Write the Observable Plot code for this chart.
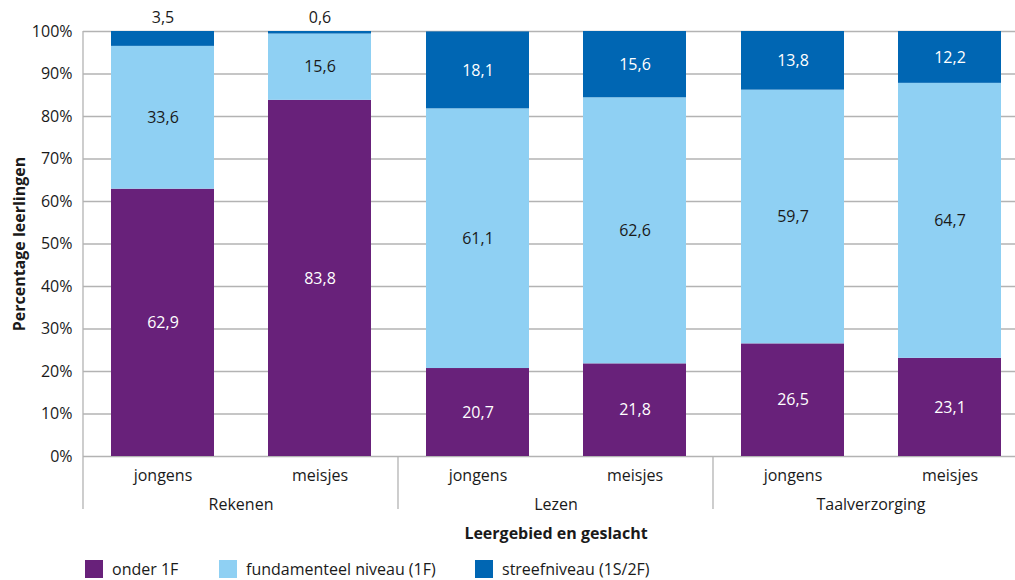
<!DOCTYPE html>
<html><head><meta charset="utf-8">
<script src="https://cdn.jsdelivr.net/npm/d3@7"></script>
<script src="https://cdn.jsdelivr.net/npm/@observablehq/plot@0.6"></script>
<style>
html,body{margin:0;padding:0;background:#fff;}
#wrap{position:relative;width:1015px;height:580px;overflow:hidden;font-family:"Open Sans",sans-serif;color:#1a1a1a;}
#chart svg{max-width:none !important;}
[aria-label="y-axis label"]{font-weight:bold;}
#xtitle{position:absolute;left:406px;width:300px;top:522px;text-align:center;font-weight:bold;font-size:16px;}
.leg{position:absolute;top:558px;display:flex;align-items:center;font-size:16px;white-space:nowrap;}
.leg span.sw{display:inline-block;width:18px;height:18px;margin-right:9px;}
</style></head>
<body><div id="wrap"><div id="chart"></div><div id="xtitle">Leergebied en geslacht</div><div id="legend"></div></div>
<script>
const groups = ["Rekenen", "Lezen", "Taalverzorging"];
const genders = ["jongens", "meisjes"];
const barGroup = ["Rekenen", "Rekenen", "Lezen", "Lezen", "Taalverzorging", "Taalverzorging"];
const barGender = ["jongens", "meisjes", "jongens", "meisjes", "jongens", "meisjes"];
const levels = ["onder 1F", "fundamenteel niveau (1F)", "streefniveau (1S/2F)"];
const levelColors = ["#68217a", "#8fd0f3", "#0066b3"];
const onder1F = [62.9, 83.8, 20.7, 21.8, 26.5, 23.1];
const fundamenteel = [33.6, 15.6, 61.1, 62.6, 59.7, 64.7];
const streef = [3.5, 0.6, 18.1, 15.6, 13.8, 12.2];
const yTicks = [0, 10, 20, 30, 40, 50, 60, 70, 80, 90, 100];

const series = [onder1F, fundamenteel, streef];
const rows = [];
barGroup.forEach((g, i) => {
  let acc = 0;
  series.forEach((s, k) => {
    const v = s[i];
    rows.push({group: g, gender: barGender[i], level: levels[k], li: k, value: v, y1: acc, y2: acc + v});
    acc += v;
  });
});
const bars = barGroup.map((g, i) => ({group: g, gender: barGender[i]}));
const fmt = v => v.toFixed(1).replace(".", ",");
const big = rows.filter(d => d.value >= 5);
const small = rows.filter(d => d.value < 5);

const chart = Plot.plot({
  width: 1028, height: 545,
  marginLeft: 83, marginRight: 0, marginTop: 31, marginBottom: 89,
  style: {fontFamily: "Open Sans", fontSize: "16px", color: "#1a1a1a", background: "white"},
  fx: {domain: groups, padding: 0, axis: null, label: null},
  x: {domain: genders, paddingInner: 0.346, paddingOuter: 0.173, axis: null, label: null},
  y: {domain: [0, 100], ticks: yTicks, tickSize: 0, tickPadding: 11, tickFormat: d => d + "%",
      label: "Percentage leerlingen", labelAnchor: "center", labelOffset: 70, labelArrow: "none"},
  color: {domain: levels, range: levelColors},
  marks: [
    Plot.gridY(yTicks, {stroke: "#b3b3b3", strokeOpacity: 1, strokeWidth: 1.3}),
    Plot.barY(rows, {fx: "group", x: "gender", y1: "y1", y2: "y2", fill: "level"}),
    Plot.text(big.filter(d => d.li !== 1), {fx: "group", x: "gender", y: d => (d.y1 + d.y2) / 2, text: d => fmt(d.value), fill: "white"}),
    Plot.text(big.filter(d => d.li === 1), {fx: "group", x: "gender", y: d => (d.y1 + d.y2) / 2, text: d => fmt(d.value), fill: "#1a1a1a"}),
    Plot.text(small, {fx: "group", x: "gender", y: "y2", dy: -14, text: d => fmt(d.value), fill: "#1a1a1a"}),
    Plot.text(bars, {fx: "group", x: "gender", text: "gender", frameAnchor: "bottom", dy: 24, fill: "#1a1a1a"}),
    Plot.text(groups, {fx: d => d, text: d => d, frameAnchor: "bottom", dy: 53, fill: "#1a1a1a"})
  ]
});
document.getElementById("chart").append(chart);

// group separators and left axis line, from the plot's own scales
const fxs = chart.scale("fx");
const ys = chart.scale("y");
const step = (fxs.range[1] - fxs.range[0]) / fxs.domain.length;
const y0 = ys.range[0], y100 = ys.range[1];
const svg = d3.select(chart.tagName.toLowerCase() === "svg" ? chart : chart.querySelector("svg"));
fxs.domain.forEach((g, i) => {
  const x = fxs.range[0] + i * step;
  svg.append("line").attr("x1", x).attr("x2", x)
    .attr("y1", i === 0 ? y100 : y0).attr("y2", y0 + 53)
    .attr("stroke", "#b3b3b3").attr("stroke-width", 1.3);
});

// legend
const legLefts = [85, 219, 475];
const leg = document.getElementById("legend");
levels.forEach((l, k) => {
  const d = document.createElement("div");
  d.className = "leg";
  d.style.left = legLefts[k] + "px";
  d.innerHTML = `<span class="sw" style="background:${levelColors[k]}"></span><span>${l}</span>`;
  leg.append(d);
});
</script></body></html>
